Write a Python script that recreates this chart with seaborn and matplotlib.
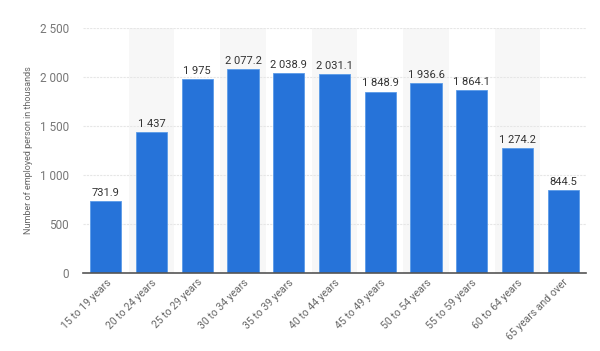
import matplotlib
matplotlib.use("Agg")
import matplotlib.pyplot as plt
import pandas as pd
import seaborn as sns

age_groups = ["15 to 19 years", "20 to 24 years", "25 to 29 years", "30 to 34 years",
              "35 to 39 years", "40 to 44 years", "45 to 49 years", "50 to 54 years",
              "55 to 59 years", "60 to 64 years", "65 years and over"]
employed = [731.9, 1437, 1975, 2077.2, 2038.9, 2031.1, 1848.9, 1936.6, 1864.1, 1274.2, 844.5]
value_labels = ["731.9", "1 437", "1 975", "2 077.2", "2 038.9", "2 031.1",
                "1 848.9", "1 936.6", "1 864.1", "1 274.2", "844.5"]
y_ticks = [0, 500, 1000, 1500, 2000, 2500]
y_ticklabels = ["0", "500", "1 000", "1 500", "2 000", "2 500"]

df = pd.DataFrame({"age": age_groups, "value": employed})

sns.set_theme(style="white")
plt.rcParams["font.family"] = ["Roboto", "DejaVu Sans"]

fig = plt.figure(figsize=(6.0, 3.51), dpi=100)
ax = fig.add_axes([83 / 600, 1 - 273 / 351, (586 - 83) / 600, (273 - 28) / 351])

# alternating column bands
for i in range(len(age_groups)):
    if i % 2 == 1:
        ax.axvspan(i - 0.5, i + 0.5, color="#f7f7f7", zorder=0, lw=0)

sns.barplot(data=df, x="age", y="value", color="#2673d9", width=0.68,
            edgecolor="#5a9be8", linewidth=0.6, saturation=1, ax=ax, zorder=2)

for i, (v, lab) in enumerate(zip(employed, value_labels)):
    ax.text(i, v + 35, lab, ha="center", va="bottom", fontsize=8, color="#333333")

ax.set_xlim(-0.5, len(age_groups) - 0.5)
ax.set_ylim(0, 2500)
ax.set_yticks(y_ticks)
ax.set_yticklabels(y_ticklabels, color="#777777", fontsize=8.5)
ax.yaxis.grid(True, color="#e6e6e6", lw=0.8, ls=(0, (2, 1)))
ax.set_axisbelow(True)
ax.tick_params(axis="y", length=0, pad=10)
ax.tick_params(axis="x", length=0, pad=3)
ax.set_xticks(range(len(age_groups)))
ax.set_xticklabels(age_groups, rotation=45, ha="right", rotation_mode="anchor",
                   fontsize=7.5, color="#666666")
ax.set_xlabel("")
ax.set_ylabel("Number of employed person in thousands", fontsize=6.5, color="#666666",
              labelpad=5)
for s in ["top", "right", "left"]:
    ax.spines[s].set_visible(False)
ax.spines["bottom"].set_color("#555555")
ax.spines["bottom"].set_linewidth(1.2)

fig.savefig("out.png", dpi=100)
